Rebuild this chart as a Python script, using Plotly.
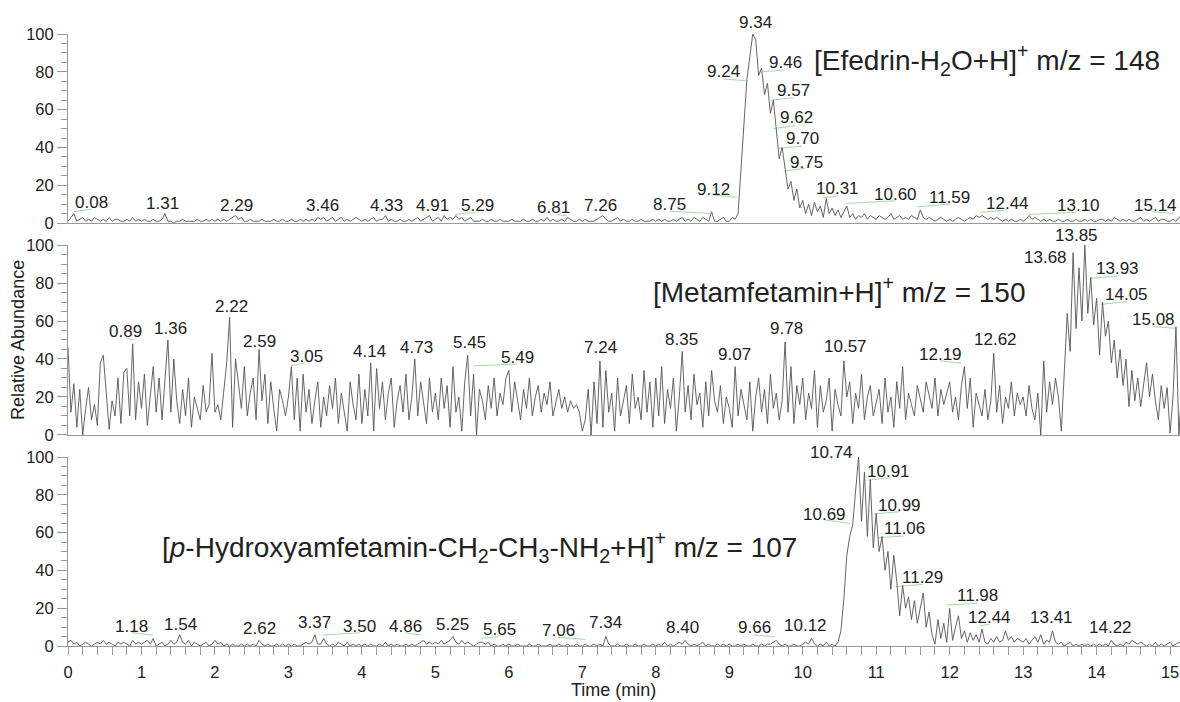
import plotly.graph_objects as go

# ---------------- data (relative abundance, one scan every 0.04 min) ----------------
SCAN_STEP = 0.04

efedrin_148 = [
    1, 3, 5, 1, 2, 3, 1, 2, 1, 3, 2, 1, 2, 1, 3, 1, 2, 2, 1, 1, 2, 1, 3, 1, 2,
    1, 2, 1, 1, 2, 1, 1, 2, 5, 1, 1, 0, 1, 1, 2, 1, 1, 1, 1, 2, 1, 1, 2, 1, 2,
    1, 2, 1, 2, 1, 2, 3, 4, 2, 3, 1, 1, 2, 1, 1, 1, 2, 1, 1, 1, 2, 1, 1, 2, 1,
    1, 2, 1, 1, 2, 1, 2, 1, 2, 1, 3, 2, 3, 1, 2, 3, 1, 2, 3, 1, 2, 1, 2, 3, 2,
    1, 2, 1, 2, 3, 1, 2, 2, 4, 1, 2, 1, 1, 2, 1, 1, 2, 1, 2, 3, 1, 2, 3, 4, 1,
    2, 3, 1, 4, 2, 3, 2, 4, 2, 3, 1, 2, 3, 1, 1, 1, 2, 1, 1, 2, 1, 1, 2, 1, 1,
    1, 2, 1, 1, 1, 2, 1, 1, 2, 1, 1, 2, 1, 3, 1, 2, 1, 1, 2, 1, 3, 2, 1, 1, 2,
    1, 2, 1, 1, 1, 2, 3, 4, 2, 1, 1, 2, 3, 1, 2, 1, 1, 2, 1, 1, 2, 1, 1, 1, 2,
    1, 2, 1, 2, 1, 1, 2, 1, 2, 3, 1, 2, 1, 3, 2, 1, 3, 2, 1, 6, 1, 1, 2, 3, 1,
    1, 3, 2, 5, 28, 52, 76, 88, 100, 97, 78, 82, 68, 74, 58, 65, 51, 34, 40, 28, 18, 22, 12, 18, 8,
    12, 5, 10, 4, 11, 6, 9, 3, 13, 5, 8, 4, 7, 3, 6, 9, 3, 5, 2, 4, 3, 5, 2, 4, 3,
    2, 4, 3, 2, 3, 5, 2, 3, 4, 2, 3, 2, 4, 3, 2, 7, 3, 2, 3, 2, 1, 2, 3, 2, 1,
    2, 1, 2, 3, 2, 1, 2, 3, 2, 4, 3, 4, 3, 2, 3, 2, 3, 2, 1, 2, 1, 2, 1, 1, 2,
    1, 2, 4, 2, 3, 2, 1, 2, 1, 2, 1, 1, 2, 1, 1, 2, 1, 1, 2, 1, 1, 2, 1, 2, 1,
    1, 2, 2, 1, 2, 1, 3, 2, 1, 2, 1, 2, 1, 1, 2, 3, 1, 2, 1, 2, 3, 1, 2, 2, 1,
    1, 2, 1, 3, 4,
]

metamfetamin_150 = [
    46, 12, 27, 4, 24, 0, 14, 25, 8, 16, 5, 38, 42, 20, 3, 18, 10, 30, 6, 33, 35, 10, 48, 8, 28,
    14, 32, 5, 22, 36, 12, 30, 8, 28, 50, 12, 40, 18, 6, 24, 10, 30, 4, 20, 14, 8, 26, 12, 16, 43,
    12, 16, 8, 22, 38, 62, 4, 40, 28, 14, 36, 10, 22, 30, 8, 45, 18, 32, 6, 28, 14, 2, 24, 18, 10,
    20, 36, 8, 30, 2, 32, 12, 24, 6, 18, 28, 4, 20, 10, 26, 14, 30, 6, 22, 12, 2, 28, 16, 8, 32,
    6, 24, 10, 38, 2, 35, 14, 28, 8, 22, 30, 4, 18, 26, 12, 32, 8, 20, 40, 10, 28, 16, 6, 30, 12,
    22, 8, 30, 14, 26, 4, 36, 12, 20, 2, 28, 42, 10, 32, 0, 24, 18, 8, 26, 14, 30, 10, 22, 16, 30,
    34, 12, 28, 18, 8, 24, 14, 30, 10, 20, 26, 12, 22, 16, 28, 10, 18, 24, 14, 20, 12, 18, 14, 16, 12,
    2, 8, 24, 0, 28, 6, 39, 4, 34, 12, 22, 2, 30, 10, 18, 26, 6, 32, 14, 20, 8, 34, 12, 28, 4,
    30, 10, 36, 6, 24, 14, 30, 2, 20, 44, 12, 26, 8, 32, 16, 22, 4, 28, 10, 34, 18, 12, 26, 6, 20,
    14, 4, 36, 10, 24, 16, 8, 28, 2, 20, 30, 12, 24, 6, 32, 14, 22, 8, 18, 49, 12, 36, 6, 26, 16,
    30, 8, 22, 14, 34, 4, 26, 12, 18, 30, 2, 24, 16, 10, 39, 20, 28, 6, 22, 14, 32, 8, 20, 26, 10,
    18, 24, 6, 30, 12, 20, 4, 28, 14, 36, 8, 22, 16, 10, 26, 18, 12, 28, 20, 14, 30, 10, 24, 16, 22,
    28, 12, 20, 8, 26, 36, 14, 30, 4, 22, 16, 10, 24, 8, 18, 43, 12, 26, 6, 20, 14, 28, 10, 22, 16,
    20, 10, 26, 14, 8, 22, 0, 39, 12, 28, 16, 30, 20, 2, 34, 64, 44, 96, 56, 88, 60, 100, 64, 83, 58,
    72, 42, 70, 52, 60, 38, 50, 30, 45, 26, 40, 15, 34, 18, 30, 15, 28, 38, 20, 32, 18, 8, 26, 14, 25,
    1, 20, 57, 0, 26,
]

hydroxyamfetamin_107 = [
    2, 3, 1, 2, 0, 1, 2, 1, 0, 1, 2, 1, 3, 1, 2, 1, 0, 2, 1, 2, 1, 0, 3, 1, 2,
    1, 2, 3, 1, 4, 0, 1, 2, 0, 1, 3, 1, 2, 6, 2, 1, 3, 0, 2, 1, 0, 1, 2, 0, 1,
    3, 1, 2, 0, 1, 0, 1, 0, 0, 1, 0, 1, 0, 1, 0, 3, 1, 0, 1, 0, 0, 1, 0, 1, 0,
    1, 0, 1, 0, 0, 1, 2, 1, 2, 6, 1, 1, 4, 1, 0, 1, 0, 2, 1, 0, 2, 0, 1, 0, 1,
    0, 1, 0, 1, 0, 0, 1, 0, 2, 0, 1, 0, 1, 0, 0, 1, 0, 1, 0, 1, 2, 3, 1, 2, 1,
    2, 1, 3, 1, 2, 3, 5, 2, 1, 3, 1, 2, 1, 0, 1, 2, 2, 1, 2, 0, 1, 0, 0, 1, 0,
    1, 0, 0, 1, 0, 0, 0, 1, 0, 0, 1, 0, 0, 0, 1, 0, 0, 1, 0, 0, 1, 0, 0, 1, 0,
    0, 1, 0, 0, 1, 0, 1, 0, 5, 1, 0, 0, 1, 0, 0, 1, 0, 0, 1, 0, 0, 1, 0, 0, 1,
    0, 1, 0, 2, 0, 1, 0, 1, 2, 1, 3, 1, 0, 1, 0, 1, 2, 0, 1, 0, 0, 1, 0, 1, 0,
    1, 0, 0, 1, 0, 1, 0, 0, 1, 0, 0, 1, 0, 1, 1, 2, 3, 1, 0, 1, 0, 0, 1, 0, 0,
    1, 2, 1, 4, 1, 0, 1, 0, 2, 0, 1, 0, 2, 8, 25, 48, 58, 64, 82, 100, 66, 92, 58, 88, 52,
    70, 50, 58, 40, 50, 30, 48, 34, 16, 32, 20, 26, 14, 24, 12, 20, 28, 10, 18, 6, 1, 14, 4, 12, 2,
    20, 3, 10, 16, 4, 8, 2, 7, 3, 6, 2, 9, 2, 1, 4, 2, 5, 2, 3, 8, 3, 5, 2, 4, 3,
    2, 4, 1, 3, 5, 2, 6, 1, 3, 2, 8, 2, 1, 2, 0, 1, 2, 0, 1, 0, 1, 0, 1, 0, 1,
    0, 1, 0, 1, 0, 3, 1, 0, 1, 0, 2, 1, 3, 2, 1, 2, 1, 0, 1, 0, 2, 0, 1, 0, 1,
    2, 0, 1, 2, 1,
]

scan_times = [round(i * SCAN_STEP, 2) for i in range(len(efedrin_148))]

panel_titles = [
    "[Efedrin-H<sub>2</sub>O+H]<sup>+</sup> m/z = 148",
    "[Metamfetamin+H]<sup>+</sup> m/z = 150",
    "[<i>p</i>-Hydroxyamfetamin-CH<sub>2</sub>-CH<sub>3</sub>-NH<sub>2</sub>+H]<sup>+</sup> m/z = 107",
]

# peak labels: text, placement (time, abundance) of the label centre
efedrin_labels = [
    ("0.08", 0.32, 11), ("1.31", 1.29, 10.6), ("2.29", 2.29, 9.5), ("3.46", 3.46, 9.5),
    ("4.33", 4.33, 9.5), ("4.91", 4.96, 9.5), ("5.29", 5.58, 9.5), ("6.81", 6.61, 8.5),
    ("7.26", 7.25, 9.5), ("8.75", 8.18, 10), ("9.12", 8.79, 18), ("9.24", 8.92, 80),
    ("9.34", 9.36, 106), ("9.46", 9.76, 85), ("9.57", 9.87, 70), ("9.62", 9.91, 55.6),
    ("9.70", 10.0, 45), ("9.75", 10.05, 32), ("10.31", 10.48, 18.5), ("10.60", 11.26, 15.3),
    ("11.59", 12.0, 13.8), ("12.44", 12.79, 10.6), ("13.10", 13.75, 9.5), ("15.14", 14.8, 9.5),
]
metamfetamin_labels = [
    ("0.89", 0.78, 54.7), ("1.36", 1.40, 55.8), ("2.22", 2.23, 67.5), ("2.59", 2.61, 49.1),
    ("3.05", 3.24, 41.2), ("4.14", 4.10, 43.7), ("4.73", 4.75, 45.8), ("5.45", 5.46, 48.6),
    ("5.49", 6.12, 41), ("7.24", 7.25, 45.8), ("8.35", 8.35, 50.5), ("9.07", 9.07, 42.6),
    ("9.78", 9.78, 55.8), ("10.57", 10.58, 46.5), ("12.19", 11.88, 42.6), ("12.62", 12.63, 50.5),
    ("13.68", 13.30, 93.2), ("13.85", 13.73, 105.3), ("13.93", 14.29, 87.4), ("14.05", 14.41, 73.7),
    ("15.08", 14.77, 61),
]
hydroxy_labels = [
    ("1.18", 0.87, 10.2), ("1.54", 1.53, 11.6), ("2.62", 2.60, 9), ("3.37", 3.35, 12.2),
    ("3.50", 3.97, 10.2), ("4.86", 4.59, 10.2), ("5.25", 5.24, 11.6), ("5.65", 5.87, 8.5),
    ("7.06", 6.67, 8.1), ("7.34", 7.32, 12.3), ("8.40", 8.37, 9.7), ("9.66", 9.34, 9.7),
    ("10.12", 10.04, 11.1), ("10.69", 10.30, 69.8), ("10.74", 10.39, 102.3), ("10.91", 11.17, 92.2),
    ("10.99", 11.32, 74.6), ("11.06", 11.39, 62.4), ("11.29", 11.63, 36.5), ("11.98", 12.38, 26.5),
    ("12.44", 12.54, 15), ("13.41", 13.38, 15), ("14.22", 14.19, 9.7),
]

# thin leader lines between shifted labels and their peaks: (t0, v0, t1, v1)
efedrin_leaders = [
    (0.07, 6.0, 0.32, 7.4), (5.27, 4.6, 5.56, 5.7), (6.65, 4.6, 6.79, 3.9), (8.19, 6.3, 8.74, 5.1),
    (8.78, 14.8, 9.10, 13.6), (8.92, 76.2, 9.22, 75.3), (9.46, 80.1, 9.76, 81.0),
    (9.56, 65.0, 9.87, 66.3), (9.60, 50.0, 9.90, 51.5), (9.67, 39.5, 9.99, 40.7),
    (9.74, 27.5, 10.03, 29.0), (10.28, 13.4, 10.48, 14.3), (10.58, 10.4, 11.26, 11.8),
    (11.57, 8.6, 12.01, 10.1), (12.41, 5.7, 12.78, 6.9), (13.07, 4.6, 13.73, 5.7),
    (14.75, 6.0, 15.04, 5.1),
]
metamfetamin_leaders = [
    (0.78, 51.2, 0.89, 50.0), (3.04, 36.5, 3.23, 38.0), (5.51, 36.3, 6.11, 37.4),
    (11.87, 39.1, 12.16, 37.7), (13.93, 82.5, 14.30, 83.7), (14.06, 68.8, 14.41, 70.2),
    (14.77, 57.0, 15.07, 56.2),
]
hydroxy_leaders = [
    (0.87, 7.0, 1.16, 5.8), (3.47, 5.8, 3.97, 7.0), (4.59, 7.0, 4.81, 5.8), (5.63, 4.1, 5.86, 4.9),
    (6.67, 4.6, 7.04, 3.5), (9.33, 5.8, 9.62, 4.9), (10.30, 66.7, 10.65, 64.9),
    (10.88, 87.8, 11.19, 89.0), (10.96, 69.8, 11.32, 71.1), (11.03, 57.3, 11.37, 58.2),
    (11.26, 31.4, 11.63, 32.6), (11.96, 21.7, 12.38, 22.6), (12.41, 10.6, 12.54, 11.5),
]

# ---------------- figure ----------------
FONT = "Liberation Sans, Arial, sans-serif"
AXIS_COLOR = "#9a9a9a"
TEXT_COLOR = "#222222"
TRACE_COLOR = "#555555"
LEADER_COLOR = "#a6d9a6"
X_MAX = 15.135
PX_PER_UNIT = 1.89  # vertical pixels per abundance unit in each panel

series = [efedrin_148, metamfetamin_150, hydroxyamfetamin_107]
labels = [efedrin_labels, metamfetamin_labels, hydroxy_labels]
leaders = [efedrin_leaders, metamfetamin_leaders, hydroxy_leaders]
domains = [[0.691, 1.0], [0.3448, 0.6552], [0.0, 0.3088]]
title_pos = [(10.12, 86), (7.94, 76.3), (1.25, 52.4)]

fig = go.Figure()
layout = {}
for k in range(3):
    sfx = "" if k == 0 else str(k + 1)
    fig.add_trace(go.Scatter(
        x=scan_times, y=series[k], mode="lines",
        line=dict(color=TRACE_COLOR, width=0.9),
        xaxis="x" + sfx, yaxis="y" + sfx, showlegend=False, hoverinfo="skip",
    ))
    xa = dict(range=[0, X_MAX], domain=[0, 1], anchor="y" + sfx, automargin=False,
              showgrid=False, zeroline=False, showline=True,
              linecolor=AXIS_COLOR, linewidth=1)
    if k < 2:
        xa.update(ticks="", showticklabels=False)
    else:
        xa.update(ticks="outside", tick0=0, dtick=1, ticklen=8, tickcolor=AXIS_COLOR,
                  tickwidth=1, ticklabelstandoff=3,
                  minor=dict(ticks="outside", dtick=0.2, ticklen=8, tickcolor=AXIS_COLOR, tickwidth=1),
                  tickfont=dict(size=16.5, color=TEXT_COLOR, family=FONT))
    ya = dict(range=[0, 100], domain=domains[k], anchor="x" + sfx, automargin=False,
              showgrid=False, zeroline=False, showline=True,
              linecolor=AXIS_COLOR, linewidth=1,
              tickvals=[0, 20, 40, 60, 80, 100], ticks="outside", ticklen=10,
              tickcolor=AXIS_COLOR, tickwidth=1,
              minor=dict(ticks="outside", dtick=5, ticklen=6, tickcolor=AXIS_COLOR, tickwidth=1),
              tickfont=dict(size=16.5, color=TEXT_COLOR, family=FONT))
    layout["xaxis" + sfx] = xa
    layout["yaxis" + sfx] = ya

    for t0, v0, t1, v1 in leaders[k]:
        fig.add_shape(type="line", x0=t0, y0=v0, x1=t1, y1=v1, xref="x" + sfx, yref="y" + sfx,
                      line=dict(color=LEADER_COLOR, width=1), layer="below")
    for text, t, v in labels[k]:
        # labels above the top of the axis are anchored at 100 and shifted up in pixels
        y_anchor = min(v, 100)
        fig.add_annotation(x=t, y=y_anchor, yshift=(v - y_anchor) * PX_PER_UNIT,
                           xref="x" + sfx, yref="y" + sfx, text=text,
                           showarrow=False, xanchor="center", yanchor="middle",
                           font=dict(size=17, color=TEXT_COLOR, family=FONT))
    tx, ty = title_pos[k]
    fig.add_annotation(x=tx, y=ty, xref="x" + sfx, yref="y" + sfx, text=panel_titles[k],
                       showarrow=False, xanchor="left", yanchor="middle",
                       font=dict(size=28, color=TEXT_COLOR, family=FONT))

fig.add_annotation(x=-0.045, y=0.5, xref="paper", yref="paper", text="Relative Abundance",
                   textangle=-90, showarrow=False, xanchor="center", yanchor="middle",
                   font=dict(size=18, color=TEXT_COLOR, family=FONT))
fig.add_annotation(x=7.42, y=-0.072, xref="x3", yref="paper", text="Time (min)",
                   showarrow=False, xanchor="center", yanchor="middle",
                   font=dict(size=18, color=TEXT_COLOR, family=FONT))

fig.update_layout(
    width=1180, height=702,
    margin=dict(l=68, r=0, t=34, b=56, autoexpand=False),
    paper_bgcolor="white", plot_bgcolor="white",
    font=dict(family=FONT, color=TEXT_COLOR),
    showlegend=False,
    **layout,
)

fig.write_html("out.html", config={"displayModeBar": False},
               post_script="document.body.style.margin='0';")
